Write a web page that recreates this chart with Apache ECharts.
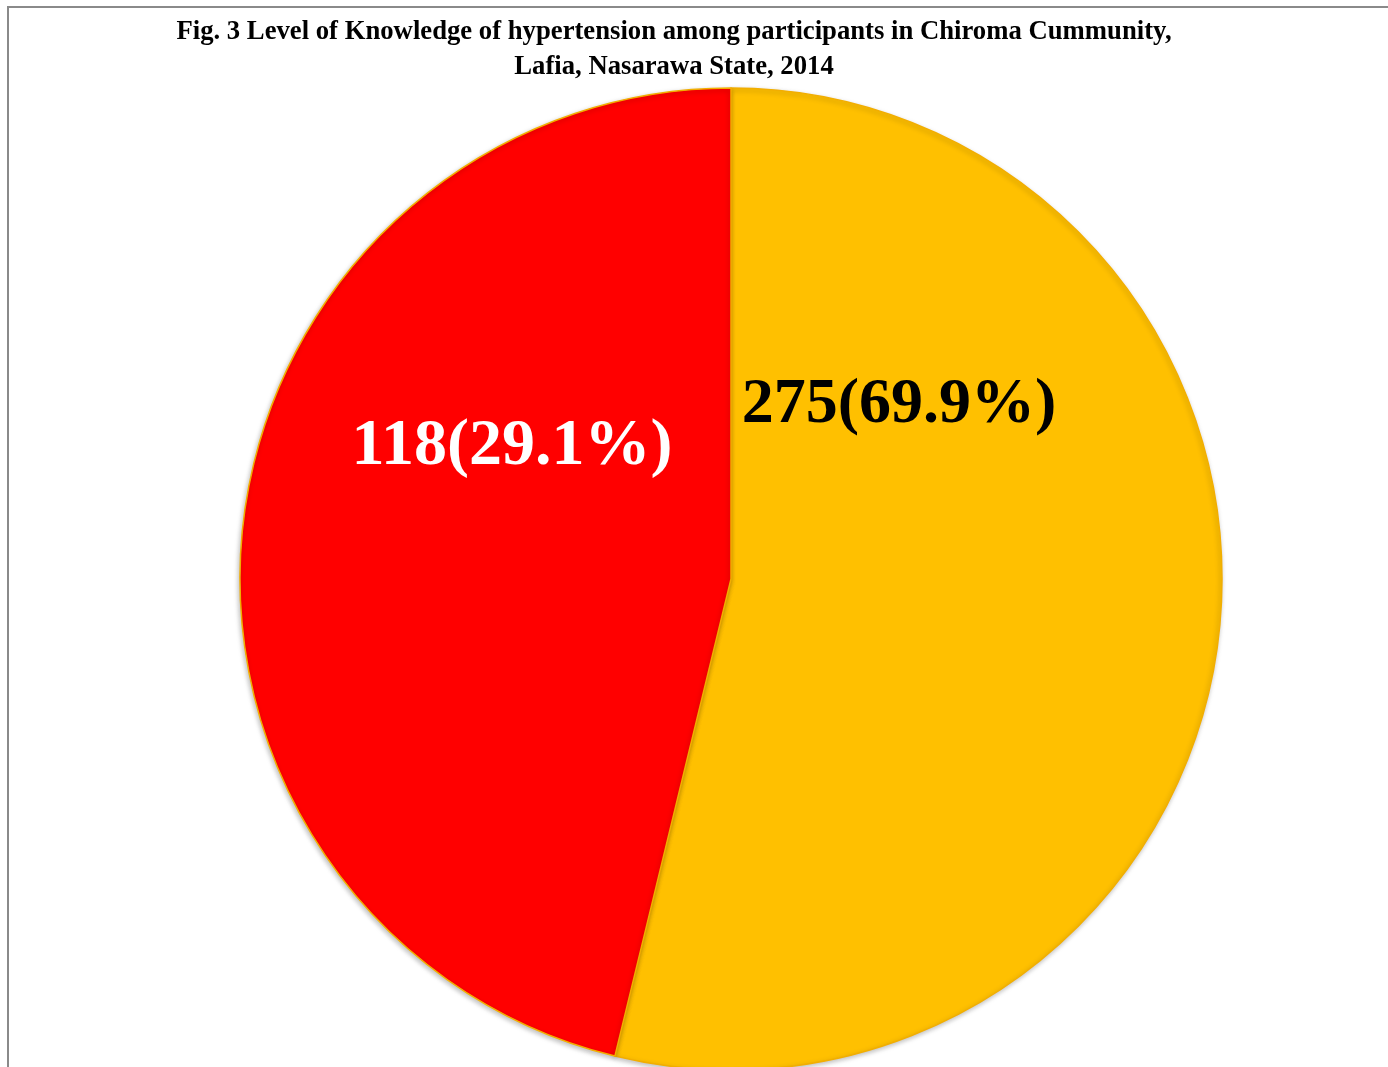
<!DOCTYPE html>
<html>
<head>
<meta charset="utf-8">
<script src="https://cdn.jsdelivr.net/npm/echarts@6/dist/echarts.min.js"></script>
<style>
html,body{margin:0;padding:0;background:#fff;}
#c{width:1388px;height:1067px;}
</style>
</head>
<body>
<div id="c"></div>
<script>
var categories = ['Good knowledge', 'Poor knowledge'];
var sliceValues = [53.8, 46.2];
var labelTexts = ['275(69.9%)', '118(29.1%)'];
var sliceColors = ['#FFC000', '#FF0000'];
var titleLines = ['Fig. 3 Level of Knowledge of hypertension among participants in Chiroma Cummunity,', 'Lafia, Nasarawa State, 2014'];

var chart = echarts.init(document.getElementById('c'), null, {renderer: 'canvas'});
var font = '"Liberation Serif", "Times New Roman", serif';

chart.setOption({
  animation: false,
  title: {
    text: titleLines.join('\n'),
    left: 669,
    textAlign: 'center',
    top: 10,
    textStyle: {fontFamily: font, fontWeight: 'bold', fontSize: 26.7, color: '#000', lineHeight: 35}
  },
  graphic: [
    {type: 'polyline', shape: {points: [[8, 1067], [8, 7], [1388, 7]]}, style: {stroke: '#8a8a8a', lineWidth: 2, fill: null}, z: 10},
    {type: 'text', x: 899, y: 405, style: {text: labelTexts[0], font: 'bold 64px ' + font, fill: '#000', align: 'center', verticalAlign: 'middle'}, z: 20},
    {type: 'text', x: 512, y: 447, style: {text: labelTexts[1], font: 'bold 66px ' + font, fill: '#fff', align: 'center', verticalAlign: 'middle'}, z: 20}
  ],
  series: [{
    type: 'pie',
    center: [731, 579],
    radius: [0, 491],
    startAngle: 90,
    clockwise: true,
    label: {show: false},
    labelLine: {show: false},
    emphasis: {disabled: true},
    itemStyle: {borderColor: '#F2AE00', borderWidth: 1.5, shadowBlur: 5, shadowColor: 'rgba(0,0,0,0.25)', shadowOffsetX: -1, shadowOffsetY: 2},
    data: categories.map(function (c, i) {
      return {name: c, value: sliceValues[i], itemStyle: {color: sliceColors[i]}};
    })
  }]
});
</script>
</body>
</html>
